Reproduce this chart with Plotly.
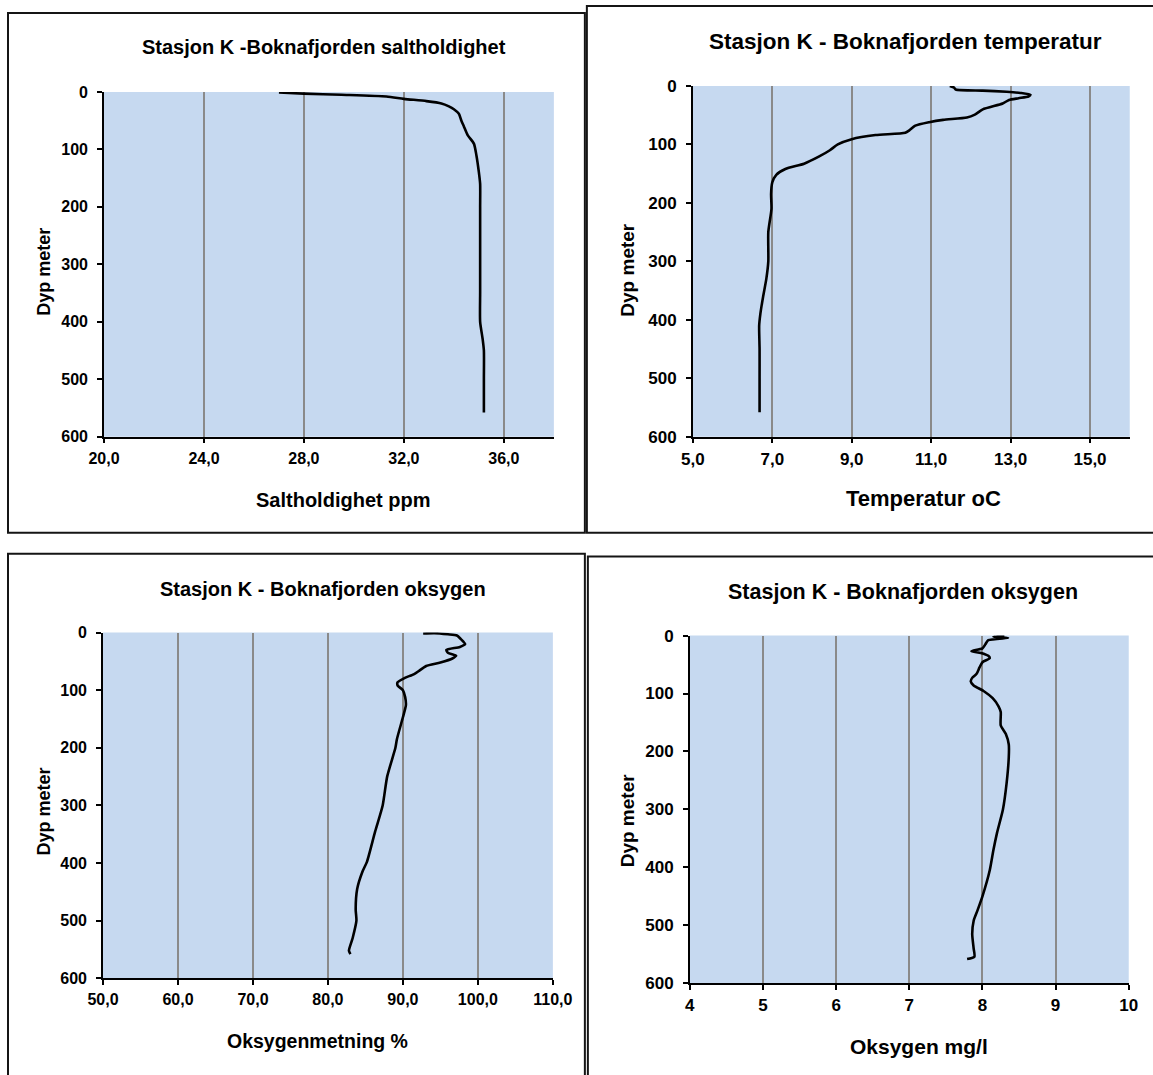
import plotly.graph_objects as go

# ---------------- data ----------------
sal_depth = [1, 3, 5, 8, 12, 16, 20, 25, 30, 38, 50, 60, 75, 90, 110, 140, 160, 200, 250, 300, 350, 400, 430, 450, 500, 558]
sal_value = [27.0, 28.0, 29.5, 31.3, 32.0, 32.9, 33.5, 33.8, 34.0, 34.2, 34.3, 34.4, 34.55, 34.8, 34.9, 35.0, 35.05,
             35.05, 35.05, 35.05, 35.05, 35.05, 35.15, 35.2, 35.2, 35.2]

temp_depth = [0, 3, 6, 8, 10, 12, 15, 18, 21, 24, 30, 40, 49, 54, 58, 62, 68, 76, 80, 84, 91, 100, 110, 121, 133,
              142, 152, 165, 185, 210, 250, 300, 330, 360, 390, 410, 450, 500, 558]
temp_value = [11.47, 11.58, 11.62, 12.3, 12.9, 13.25, 13.5, 13.45, 13.2, 12.96, 12.8, 12.3, 12.1, 11.9, 11.3, 10.95,
              10.6, 10.45, 10.35, 9.6, 9.0, 8.65, 8.45, 8.17, 7.8, 7.33, 7.1, 7.0, 6.97, 6.98, 6.9, 6.9, 6.85, 6.77,
              6.7, 6.67, 6.68, 6.68, 6.68]

oxp_depth = [1.5, 1, 3, 5, 11, 20, 25, 30, 35, 40, 45, 52, 58, 66, 72, 79, 86, 92, 100, 112, 126, 147, 185, 200, 250,
             300, 345, 398, 415, 445, 480, 500, 530, 552, 558]
oxp_value = [92.7, 94.2, 96.0, 97.2, 97.7, 98.3, 97.6, 95.8, 96.0, 97.1, 96.6, 95.0, 93.1, 92.2, 91.5, 90.2, 89.3,
             89.3, 90.0, 90.3, 90.4, 90.0, 89.2, 89.0, 87.9, 87.3, 86.3, 85.2, 84.6, 83.9, 83.7, 83.8, 83.3, 82.8, 83.0]

oxm_depth = [0, 2, 4, 8, 15, 22, 27, 30, 35, 39, 46, 55, 66, 73, 79, 86, 96, 108, 122, 132, 155, 170, 188, 210, 255,
             300, 340, 370, 405, 450, 475, 492, 515, 540, 554, 558]
oxm_value = [8.3, 8.15, 8.35, 8.08, 8.04, 8.0, 7.85, 7.98, 8.08, 8.1, 8.0, 7.96, 7.92, 7.86, 7.84, 7.88, 8.02, 8.14,
             8.22, 8.25, 8.25, 8.32, 8.36, 8.36, 8.33, 8.28, 8.2, 8.15, 8.1, 8.0, 7.93, 7.88, 7.86, 7.88, 7.89, 7.79]

depth_ticks = [0, 100, 200, 300, 400, 500, 600]
sal_ticks = [20, 24, 28, 32, 36]
sal_ticktext = ["20,0", "24,0", "28,0", "32,0", "36,0"]
temp_ticks = [5, 7, 9, 11, 13, 15]
temp_ticktext = ["5,0", "7,0", "9,0", "11,0", "13,0", "15,0"]
oxp_ticks = [50, 60, 70, 80, 90, 100, 110]
oxp_ticktext = ["50,0", "60,0", "70,0", "80,0", "90,0", "100,0", "110,0"]
oxm_ticks = [4, 5, 6, 7, 8, 9, 10]
oxm_ticktext = ["4", "5", "6", "7", "8", "9", "10"]

titles = ["Stasjon K -Boknafjorden saltholdighet", "Stasjon K - Boknafjorden temperatur",
          "Stasjon K - Boknafjorden oksygen", "Stasjon K - Boknafjorden oksygen"]
xtitles = ["Saltholdighet ppm", "Temperatur oC", "Oksygenmetning %", "Oksygen mg/l"]
ytitle = "Dyp meter"

# ---------------- layout helpers ----------------
W, H = 1153, 1075
# observed placement of the figure in the final picture
SX, OX, SY, OY = 0.969, 15.0, 0.983, 8.0


def fx(x):
    return (x - OX) / SX / W


def fy(y):
    return 1 - (y - OY) / SY / H


FONT = "Liberation Sans, Arial, sans-serif"
BG = "rgb(198,217,240)"
GRID = "#8a8a8a"

panels = [
    dict(area=(103, 553, 91, 436), xr=[20, 38], tv=sal_ticks, tt=sal_ticktext,
         frame=(7, 12, 584, 532), t=(323, 46), xt=(342, 499), yt=(43, 271),
         fs=(20, 20, 18, 16), x=sal_value, y=sal_depth),
    dict(area=(692, 1129, 85, 436), xr=[5, 16], tv=temp_ticks, tt=temp_ticktext,
         frame=(586, 5, 1165, 532), t=(905, 41), xt=(923, 498), yt=(627, 269),
         fs=(22.5, 22, 19, 17), x=temp_value, y=temp_depth),
    dict(area=(102, 552, 632, 978), xr=[50, 110], tv=oxp_ticks, tt=oxp_ticktext,
         frame=(7, 553, 584, 1095), t=(322, 588), xt=(317, 1041), yt=(43, 811),
         fs=(20, 19.5, 18, 16), x=oxp_value, y=oxp_depth),
    dict(area=(689, 1128, 635, 983), xr=[4, 10], tv=oxm_ticks, tt=oxm_ticktext,
         frame=(587, 556, 1165, 1095), t=(902, 591), xt=(918, 1046), yt=(627, 820),
         fs=(21.5, 21, 19, 17), x=oxm_value, y=oxm_depth),
]

fig = go.Figure()
layout = dict(
    width=W, height=H, margin=dict(l=0, r=0, t=0, b=0),
    paper_bgcolor="white", showlegend=False,
    font=dict(family=FONT, color="black"),
    shapes=[], annotations=[],
)

for i, p in enumerate(panels):
    n = "" if i == 0 else str(i + 1)
    L, R, T, B = p["area"]
    fs_t, fs_x, fs_y, fs_tick = p["fs"]
    fig.add_trace(go.Scatter(
        x=p["x"], y=p["y"], mode="lines",
        line=dict(color="black", width=2.6, shape="spline", smoothing=0.6),
        xaxis="x" + n, yaxis="y" + n, hoverinfo="skip"))
    tickfont = dict(family=FONT, size=fs_tick, color="black", weight="bold")
    layout["xaxis" + n] = dict(
        domain=[fx(L), fx(R)], range=p["xr"], anchor="y" + n,
        tickvals=p["tv"], ticktext=p["tt"],
        showgrid=True, gridcolor=GRID, gridwidth=1.6, zeroline=False,
        showline=True, linecolor="black", linewidth=1.5,
        ticks="outside", ticklen=5, tickwidth=1.5, tickcolor="black",
        tickfont=tickfont, ticklabelstandoff=1, fixedrange=True)
    layout["yaxis" + n] = dict(
        domain=[fy(B), fy(T)], range=[600, 0], anchor="x" + n,
        tickvals=depth_ticks, ticktext=[str(v) for v in depth_ticks],
        showgrid=False, zeroline=False,
        showline=True, linecolor="black", linewidth=1.5,
        ticks="outside", ticklen=5, tickwidth=1.5, tickcolor="black",
        tickfont=tickfont, ticklabelstandoff=6, fixedrange=True)
    layout["shapes"].append(dict(
        type="rect", xref="paper", yref="paper", layer="below",
        x0=fx(L), x1=fx(R), y0=fy(B), y1=fy(T),
        fillcolor=BG, line=dict(width=0)))
    fx0, fy0, fx1, fy1 = p["frame"]
    layout["shapes"].append(dict(
        type="rect", xref="paper", yref="paper",
        x0=fx(fx0), x1=fx(fx1), y0=fy(fy1), y1=fy(fy0),
        line=dict(color="#151515", width=2), fillcolor="rgba(0,0,0,0)"))
    layout["annotations"].append(dict(
        text=titles[i], xref="paper", yref="paper", x=fx(p["t"][0]), y=fy(p["t"][1]),
        xanchor="center", yanchor="middle", showarrow=False,
        font=dict(family=FONT, size=fs_t, color="black", weight="bold")))
    layout["annotations"].append(dict(
        text=xtitles[i], xref="paper", yref="paper", x=fx(p["xt"][0]), y=fy(p["xt"][1]),
        xanchor="center", yanchor="middle", showarrow=False,
        font=dict(family=FONT, size=fs_x, color="black", weight="bold")))
    layout["annotations"].append(dict(
        text=ytitle, xref="paper", yref="paper", x=fx(p["yt"][0]), y=fy(p["yt"][1]),
        xanchor="center", yanchor="middle", showarrow=False, textangle=-90,
        font=dict(family=FONT, size=fs_y, color="black", weight="bold")))

layout["plot_bgcolor"] = "rgba(0,0,0,0)"
fig.update_layout(**layout)
fig.write_html("out.html")
